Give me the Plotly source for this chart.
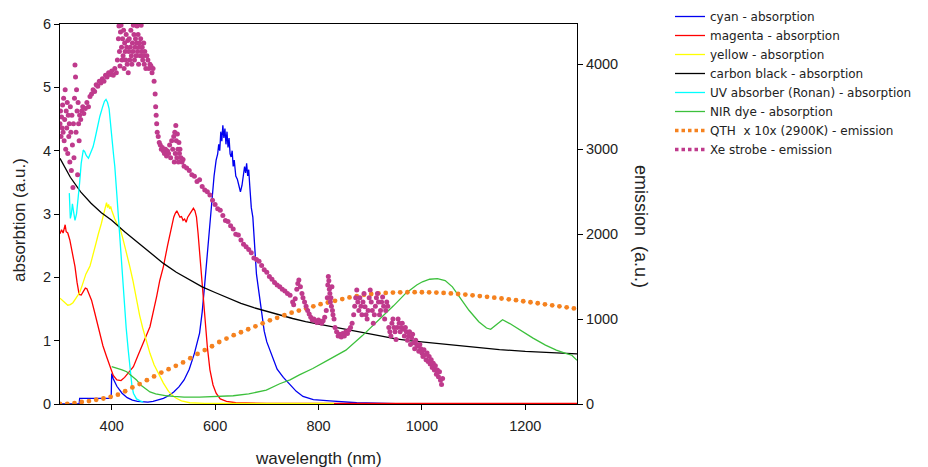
import plotly.graph_objects as go

# ---------------- data ----------------
cyan_wl = [300, 337, 338, 399, 400, 403, 410, 420, 430, 440, 450, 460, 470, 480, 490, 500, 510, 520, 530, 540,
           550, 560, 570, 575, 580, 585, 590, 594, 598, 602, 605, 607, 609, 611, 613, 615, 617, 619, 621, 623,
           625, 627, 629, 631, 633, 635, 637, 640, 643, 646, 649, 652, 655, 657, 659, 661, 663, 665, 667, 670,
           673, 676, 680, 685, 690, 695, 700, 706, 712, 720, 732, 745, 757, 770, 790, 822, 874, 950, 1300]
cyan_abs = [0, 0, 0.09, 0.09, 0.48, 0.40, 0.28, 0.17, 0.10, 0.06, 0.04, 0.03, 0.03, 0.04, 0.06, 0.09, 0.13, 0.19, 0.27, 0.38,
            0.55, 0.80, 1.12, 1.45, 1.90, 2.40, 2.90, 3.30, 3.60, 3.85, 3.95, 4.10, 4.00, 4.30, 4.15, 4.40, 4.20, 4.35, 4.10, 4.30,
            4.05, 4.20, 3.95, 3.90, 4.00, 3.75, 3.85, 3.60, 3.55, 3.45, 3.35, 3.45, 3.60, 3.75, 3.65, 3.80, 3.60, 3.70, 3.45, 3.10,
            2.95, 2.50, 2.05, 1.75, 1.40, 1.15, 0.98, 0.85, 0.70, 0.55, 0.42, 0.30, 0.20, 0.12, 0.07, 0.05, 0.02, 0.005, 0.005]

magenta_wl = [300, 303, 306, 308, 310, 312, 315, 319, 324, 329, 333, 337, 341, 345, 349, 352, 356, 361, 366, 371,
              377, 383, 390, 397, 403, 410, 418, 425, 433, 442, 450, 458, 466, 474, 480, 487, 493, 500, 508, 515,
              520, 523, 526, 529, 532, 535, 538, 541, 544, 547, 551, 555, 558, 561, 564, 567, 570, 573, 577, 580,
              585, 590, 596, 602, 610, 622, 640, 700, 1300]
magenta_abs = [2.69, 2.75, 2.70, 2.80, 2.83, 2.72, 2.70, 2.59, 2.40, 2.17, 1.92, 1.73, 1.72, 1.78, 1.83, 1.82, 1.75, 1.64, 1.48, 1.30,
               1.11, 0.92, 0.75, 0.58, 0.45, 0.38, 0.37, 0.42, 0.50, 0.59, 0.75, 0.92, 1.06, 1.22, 1.42, 1.70, 1.95, 2.17, 2.50, 2.78,
               2.95, 3.01, 3.05, 3.00, 2.95, 2.96, 2.90, 2.92, 2.87, 2.95, 3.00, 3.05, 3.09, 3.05, 2.95, 2.70, 2.40, 2.10, 1.70, 1.38,
               0.90, 0.54, 0.30, 0.17, 0.08, 0.04, 0.02, 0.01, 0.01]

yellow_wl = [300, 305, 310, 315, 320, 325, 330, 335, 338, 342, 346, 350, 355, 358, 362, 366, 370, 374, 377, 380,
             383, 386, 388, 390, 392, 394, 396, 398, 400, 403, 406, 410, 416, 422, 428, 435, 441, 448, 454, 460,
             467, 474, 482, 490, 500, 510, 518, 525, 535, 551, 580, 830]
yellow_abs = [1.67, 1.63, 1.59, 1.56, 1.57, 1.60, 1.66, 1.72, 1.76, 1.85, 1.95, 2.05, 2.13, 2.18, 2.30, 2.45, 2.55, 2.68, 2.75, 2.85,
              2.95, 3.05, 3.15, 3.18, 3.10, 3.15, 3.08, 3.12, 3.06, 2.98, 2.92, 2.85, 2.78, 2.60, 2.42, 2.17, 1.95, 1.65, 1.40, 1.20,
              0.98, 0.80, 0.62, 0.48, 0.33, 0.20, 0.13, 0.09, 0.05, 0.02, 0.01, 0.01]

carbon_wl = [300, 320, 340, 360, 380, 400, 425, 450, 475, 500, 525, 550, 575, 600, 625, 650, 675, 700, 725, 750,
             775, 800, 825, 850, 875, 900, 925, 950, 975, 1000, 1050, 1100, 1150, 1200, 1250, 1300]
carbon_abs = [3.88, 3.58, 3.35, 3.17, 3.02, 2.90, 2.72, 2.55, 2.38, 2.22, 2.08, 1.96, 1.85, 1.76, 1.67, 1.59, 1.52, 1.46, 1.41, 1.35,
              1.30, 1.26, 1.22, 1.19, 1.14, 1.10, 1.06, 1.03, 1.00, 0.98, 0.93, 0.89, 0.86, 0.83, 0.81, 0.79]

uv_wl = [318, 320, 322, 324, 326, 329, 332, 335, 338, 341, 345, 348, 351, 355, 359, 364, 368, 372, 377, 382,
         386, 389, 392, 395, 398, 401, 404, 406, 410, 414, 419, 424, 428, 432, 436, 439, 442, 448, 455, 461]
uv_abs = [3.33, 2.93, 3.00, 3.16, 3.05, 2.90, 3.00, 3.22, 3.50, 3.80, 4.01, 3.98, 3.92, 3.88, 3.95, 4.06, 4.20, 4.37, 4.54, 4.68,
          4.78, 4.81, 4.76, 4.66, 4.45, 4.15, 3.90, 3.75, 3.30, 2.80, 2.17, 1.60, 1.20, 0.85, 0.50, 0.30, 0.17, 0.08, 0.05, 0.03]

nir_wl = [400, 410, 420, 429, 438, 448, 456, 465, 474, 485, 495, 506, 520, 540, 570, 600, 635, 665, 699, 725,
          745, 763, 789, 820, 853, 885, 918, 945, 969, 990, 1001, 1015, 1030, 1045, 1059, 1075, 1091, 1110, 1125, 1133,
          1145, 1156, 1170, 1194, 1215, 1239, 1260, 1278, 1290, 1300]
nir_abs = [0.59, 0.57, 0.54, 0.51, 0.45, 0.38, 0.30, 0.24, 0.19, 0.16, 0.14, 0.13, 0.12, 0.11, 0.11, 0.12, 0.13, 0.16, 0.22, 0.32,
           0.38, 0.46, 0.56, 0.70, 0.85, 1.08, 1.33, 1.55, 1.75, 1.88, 1.93, 1.97, 1.98, 1.95, 1.85, 1.67, 1.48, 1.30, 1.20, 1.18,
           1.26, 1.33, 1.27, 1.14, 1.04, 0.93, 0.85, 0.80, 0.77, 0.69]

qth_wl = [300, 314, 328, 342, 356, 370, 384, 398, 412, 426, 440, 454, 468, 482, 496, 510, 524, 538, 552, 566,
          580, 594, 608, 622, 636, 650, 664, 678, 692, 706, 720, 734, 748, 762, 776, 790, 804, 818, 832, 846,
          860, 874, 888, 902, 916, 930, 944, 958, 972, 986, 1000, 1014, 1028, 1042, 1056, 1070, 1084, 1098, 1112, 1126,
          1140, 1154, 1168, 1182, 1196, 1210, 1224, 1238, 1252, 1266, 1280, 1294]
qth_em = [0, 2, 10, 25, 35, 50, 65, 85, 110, 150, 195, 235, 280, 325, 370, 410, 450, 490, 540, 590,
          635, 680, 730, 770, 810, 845, 880, 915, 950, 985, 1015, 1045, 1075, 1100, 1125, 1150, 1175, 1195, 1215, 1235,
          1255, 1270, 1285, 1295, 1303, 1308, 1312, 1315, 1316, 1317, 1316, 1315, 1312, 1308, 1302, 1295, 1288, 1280, 1271, 1262,
          1252, 1242, 1232, 1222, 1210, 1198, 1186, 1174, 1162, 1150, 1138, 1125]

xe_wl = [300, 301, 302, 303, 304, 305, 306, 307, 308, 309, 310, 311, 312, 313, 314, 315, 316, 317, 318, 319,
         320, 321, 322, 323, 324, 325, 326, 327, 328, 329, 330, 331, 332, 333, 334, 335, 336, 337, 338, 340,
         342, 344, 346, 349, 352, 355, 358, 361, 364, 367, 370, 373, 376, 379, 382, 385, 388, 391, 394, 397,
         400, 403, 406, 409, 411, 413, 414, 415, 416, 417, 418, 419, 420, 421, 422, 423, 424, 425, 426, 427,
         428, 429, 430, 431, 432, 433, 434, 435, 436, 437, 438, 439, 440, 441, 442, 443, 444, 445, 446, 447,
         448, 449, 450, 451, 452, 453, 454, 455, 456, 457, 458, 459, 460, 461, 462, 463, 464, 466, 468, 470,
         472, 474, 476, 478, 480, 482, 484, 485, 486, 487, 488, 490, 492, 494, 496, 498, 500, 502, 504, 506,
         508, 510, 512, 514, 516, 518, 520, 521, 522, 523, 524, 525, 526, 527, 528, 529, 530, 531, 532, 534,
         536, 538, 540, 545, 550, 555, 560, 565, 570, 575, 580, 585, 590, 595, 600, 605, 610, 615, 620, 625,
         630, 635, 640, 645, 650, 655, 660, 665, 670, 675, 680, 685, 690, 695, 700, 705, 710, 715, 720, 725,
         730, 735, 740, 745, 750, 752, 755, 758, 760, 762, 765, 768, 770, 773, 776, 779, 782, 785, 788, 791,
         794, 797, 800, 803, 806, 809, 812, 815, 817, 818, 819, 820, 821, 822, 823, 824, 825, 826, 827, 828,
         830, 832, 835, 838, 841, 844, 847, 850, 853, 856, 859, 862, 865, 868, 870, 872, 874, 876, 878, 880,
         882, 884, 886, 888, 890, 892, 894, 896, 898, 900, 902, 904, 906, 908, 910, 912, 914, 916, 918, 920,
         922, 924, 926, 928, 930, 932, 934, 936, 938, 940, 942, 944, 946, 948, 950, 952, 954, 956, 958, 960,
         962, 964, 966, 968, 970, 972, 974, 976, 978, 980, 982, 984, 986, 988, 990, 992, 994, 996, 998, 1000,
         1002, 1004, 1006, 1008, 1010, 1012, 1014, 1016, 1018, 1020, 1022, 1024, 1026, 1028, 1030, 1032, 1034, 1036, 1038, 1040]
xe_em = [3300, 3450, 3150, 3380, 3250, 3520, 3200, 3600, 3100, 3350, 3700, 3000, 3450, 3250, 3550, 2950, 3400, 3150, 3300, 2850,
         3500, 3200, 2750, 3400, 3050, 2550, 3300, 2900, 3600, 3990, 3850, 3200, 3700, 3450, 2700, 3550, 3300, 3100, 3400, 3350,
         3450, 3500, 3420, 3480, 3550, 3500, 3620, 3650, 3700, 3680, 3760, 3740, 3800, 3780, 3830, 3800, 3870, 3850, 3900, 3880,
         3920, 3870, 3950, 3900, 4050, 4300, 4450, 4150, 3980, 4380, 4460, 4200, 4050, 4300, 4100, 4400, 3950, 4250, 4150, 4050,
         4350, 4200, 4000, 4280, 3900, 4150, 4300, 4050, 4200, 4400, 4100, 4000, 4250, 4150, 4460, 4350, 4050, 4200, 4300, 4100,
         4250, 4450, 4150, 4350, 4000, 4200, 4250, 4100, 4300, 4460, 4150, 4200, 4050, 4100, 4250, 4000, 4150, 3950, 4100, 4050,
         3950, 4000, 3980, 3900, 3950, 3800, 3650, 3500, 3400, 3300, 3200, 3150, 3080, 3050, 3000, 3020, 2980, 2950, 3000, 2920,
         2980, 2950, 3050, 2900, 3100, 3000, 3150, 2850, 3200, 2950, 3280, 3100, 2900, 3180, 3000, 2850, 3080, 2950, 3000, 2900,
         2850, 2880, 2800, 2780, 2750, 2700, 2680, 2620, 2640, 2560, 2520, 2500, 2460, 2400, 2350, 2300, 2280, 2220, 2160, 2150,
         2100, 2060, 2000, 1990, 1930, 1880, 1850, 1820, 1780, 1720, 1700, 1680, 1630, 1580, 1550, 1500, 1470, 1430, 1400, 1380,
         1350, 1330, 1300, 1280, 1200, 1170, 1240, 1350, 1420, 1460, 1380, 1300, 1250, 1200, 1150, 1100, 1060, 1020, 990, 1000,
         980, 960, 990, 970, 950, 980, 1020, 1100, 1250, 1400, 1500, 1450, 1350, 1300, 1200, 1250, 1150, 1380, 1100, 1050,
         1000, 900, 850, 800, 820, 790, 830, 800, 850, 830, 870, 900, 950, 1050, 1150, 1250, 1342, 1200, 1100, 1250,
         1150, 1050, 1200, 1300, 1146, 1050, 1000, 1100, 1250, 1342, 1200, 1100, 950, 1050, 1150, 1250, 1300, 1200, 1050, 1100,
         1200, 1260, 1150, 1000, 1100, 1200, 1150, 900, 850, 800, 950, 1000, 900, 850, 760, 900, 1000, 950, 850, 900,
         950, 880, 800, 900, 850, 750, 800, 850, 700, 780, 820, 720, 650, 750, 700, 680, 620, 700, 650, 600,
         560, 640, 580, 520, 600, 500, 560, 470, 520, 430, 480, 400, 450, 350, 400, 320, 380, 280, 230, 300]

x_ticks = [400, 600, 800, 1000, 1200]
y_ticks = [0, 1, 2, 3, 4, 5, 6]
y2_ticks = [0, 1000, 2000, 3000, 4000]

# ---------------- figure ----------------
FONT = "Arial, Liberation Sans, sans-serif"
W, H = 928, 467
L, R, T, B = 60, 577, 24, 404   # plot area in pixels
lw = 1.3
fig = go.Figure()

def add_line(x, y, name, color):
    fig.add_trace(go.Scatter(x=x, y=y, mode="lines", name=name,
                             line=dict(color=color, width=lw)))

add_line(cyan_wl, cyan_abs, "cyan - absorption", "#0000F0")
add_line(magenta_wl, magenta_abs, "magenta - absorption", "#FF0000")
add_line(yellow_wl, yellow_abs, "yellow - absorption", "#FFFF00")
add_line(carbon_wl, carbon_abs, "carbon black - absorption", "#000000")
add_line(uv_wl, uv_abs, "UV absorber (Ronan) - absorption", "#00FFFF")
add_line(nir_wl, nir_abs, "NIR dye - absorption", "#3CC03C")

QTH_C = "#F5821F"
XE_C = "#BF3A8C"
fig.add_trace(go.Scatter(x=qth_wl, y=qth_em, mode="markers", yaxis="y2", showlegend=False,
                         marker=dict(color=QTH_C, size=4.8)))
fig.add_trace(go.Scatter(x=xe_wl, y=xe_em, mode="markers", yaxis="y2", showlegend=False,
                         marker=dict(color=XE_C, size=5)))
# legend entries (dotted samples)
fig.add_trace(go.Scatter(x=[None], y=[None], mode="lines", yaxis="y2", name="QTH  x 10x (2900K) - emission",
                         line=dict(color=QTH_C, width=3.5, dash="3.5px,3px")))
fig.add_trace(go.Scatter(x=[None], y=[None], mode="lines", yaxis="y2", name="Xe strobe - emission",
                         line=dict(color=XE_C, width=3.5, dash="3.5px,3px")))

axis_common = dict(showgrid=False, zeroline=False, showline=True, linecolor="black", linewidth=1,
                   ticks="outside", ticklen=5, tickcolor="black", tickwidth=1, automargin=False,
                   tickfont=dict(family=FONT, size=14.5, color="#222"))

def px_to_paper(px, py):
    return (px - L) / (R - L), (B - py) / (B - T)

anns = []
for text, (px, py), ang, fs in [("wavelength (nm)", (318, 458), 0, 17),
                                ("absorbtion (a.u.)", (19, 220), -90, 17),
                                ("emission  (a.u.)", (641, 226), 90, 18)]:
    xp, yp = px_to_paper(px, py)
    anns.append(dict(text=text, x=xp, y=yp, xref="paper", yref="paper", xanchor="center", yanchor="middle",
                     textangle=ang, showarrow=False, font=dict(family=FONT, size=fs, color="#222")))

fig.update_layout(
    width=W, height=H,
    margin=dict(l=L, r=W - R, t=T, b=H - B, autoexpand=False),
    paper_bgcolor="white", plot_bgcolor="white",
    font=dict(family=FONT, color="#222"),
    xaxis=dict(range=[300, 1300], tickvals=x_ticks, mirror=True, ticklabelstandoff=4, **axis_common),
    yaxis=dict(range=[0, 6], tickvals=y_ticks, **axis_common),
    yaxis2=dict(range=[0, 4474], tickvals=y2_ticks, overlaying="y", side="right", **axis_common),
    legend=dict(xref="container", yref="container", x=670 / W, y=1.0 - 2 / H, xanchor="left", yanchor="top",
                bgcolor="rgba(0,0,0,0)", tracegroupgap=0,
                font=dict(family="DejaVu Sans", size=12, color="#222")),
    showlegend=True,
    annotations=anns,
)

fig.write_html("out.html", config={"displayModeBar": False},
               post_script="document.body.style.margin='0px';document.body.style.overflow='hidden';")
